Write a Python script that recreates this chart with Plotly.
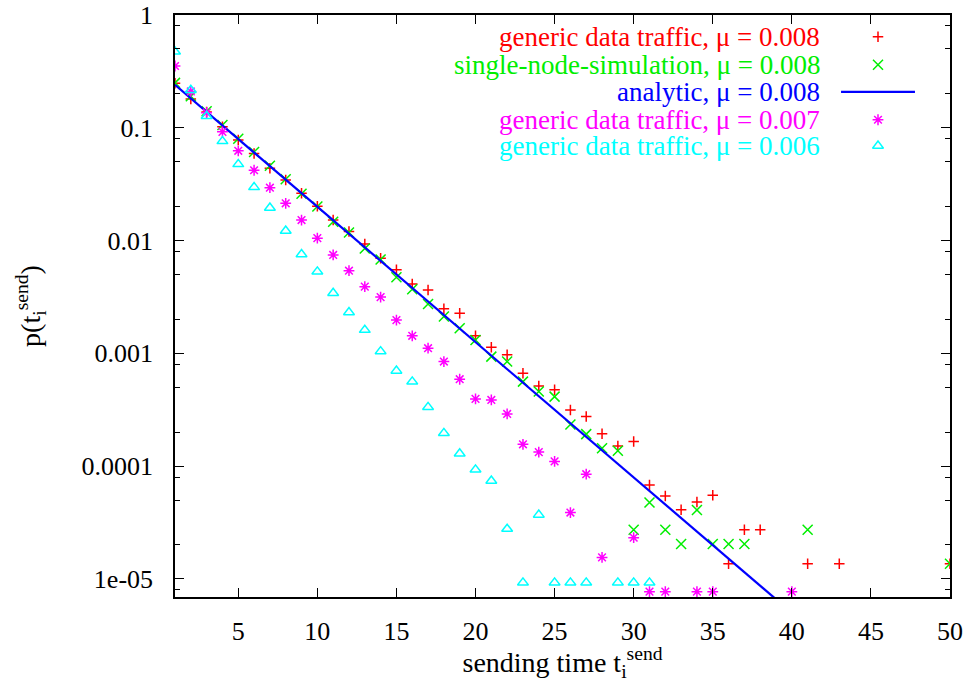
import plotly.graph_objects as go

# sending time t_i^send (1 ... 50)
t = list(range(1, 51))

# p(t_i^send), generic data traffic, mu = 0.008
p_generic_008 = [
    0.248, 0.18, 0.138, 0.102, 0.078, 0.059, 0.0437, 0.0345, 0.0262, 0.0201,
    0.0152, 0.012, 0.0093, 0.00697, 0.00552, 0.00411, 0.00365, 0.00248, 0.00227, 0.00143,
    0.00113, 0.00097, 0.000666, 0.000514, 0.000474, 0.000315, 0.000275, 0.000193, 0.000151, 0.000165,
    6.8e-5, 5.44e-5, 4.1e-5, 4.8e-5, 5.5e-5, 1.36e-5, 2.72e-5, 2.72e-5, None, None,
    1.36e-5, None, 1.36e-5, None, None, None, None, None, None, 1.36e-5,
]

# p(t_i^send), single-node-simulation, mu = 0.008
p_single_008 = [
    0.25, 0.19, 0.14, 0.106, 0.08, 0.061, 0.046, 0.035, 0.026, 0.020,
    0.0147, 0.0118, 0.0085, 0.0068, 0.00473, 0.0037, 0.00274, 0.00212, 0.00167, 0.00131,
    0.000935, 0.000845, 0.000561, 0.000458, 0.000413, 0.000234, 0.000192, 0.000144, 0.000137, 2.72e-5,
    4.75e-5, 2.72e-5, 2.04e-5, 4.08e-5, 2.04e-5, 2.04e-5, 2.04e-5, None, None, None,
    2.72e-5, None, None, None, None, None, None, None, None, 1.36e-5,
]

# analytic curve, mu = 0.008 (straight line on the log axis)
t_analytic = [1, 40]
p_analytic_008 = [0.24, 5.0e-6]

# p(t_i^send), generic data traffic, mu = 0.007
p_generic_007 = [
    0.353, 0.21, 0.136, 0.092, 0.0625, 0.042, 0.0294, 0.0214, 0.0152, 0.0105,
    0.00745, 0.0054, 0.0039, 0.00315, 0.00197, 0.00143, 0.00111, 0.000845, 0.000589, 0.000394,
    0.000386, 0.00029, 0.000156, 0.000133, 0.00011, 3.87e-5, 8.47e-5, 1.55e-5, None, 2.32e-5,
    7.7e-6, 7.7e-6, None, 7.7e-6, 7.7e-6, None, None, None, None, 7.7e-6,
    None, None, None, None, None, None, None, None, None, None,
]

# p(t_i^send), generic data traffic, mu = 0.006
p_generic_006 = [
    0.473, 0.216, 0.127, 0.076, 0.0475, 0.0297, 0.0195, 0.0122, 0.00755, 0.0053,
    0.00342, 0.00231, 0.00161, 0.00104, 0.0007, 0.000561, 0.000333, 0.000196, 0.000129, 9.3e-5,
    7.4e-5, 2.77e-5, 9.25e-6, 3.7e-5, 9.25e-6, 9.25e-6, 9.25e-6, None, 9.25e-6, 9.25e-6,
    9.25e-6, None, None, None, None, None, None, None, None, None,
    None, None, None, None, None, None, None, None, None, None,
]

x_ticks = [5, 10, 15, 20, 25, 30, 35, 40, 45, 50]
y_ticks = [1e-5, 1e-4, 1e-3, 1e-2, 1e-1, 1]
y_tick_text = ["1e-05", "0.0001", "0.001", "0.01", "0.1", "1"]
y_minor = [m * 10.0 ** e for e in range(-6, 0) for m in (2, 5, 8)]

legend_labels = [
    "generic data traffic, μ = 0.008",
    "single-node-simulation, μ = 0.008",
    "analytic, μ = 0.008",
    "generic data traffic, μ = 0.007",
    "generic data traffic, μ = 0.006",
]

RED, GREEN, BLUE, MAGENTA, CYAN = "#ff0000", "#00ee00", "#0000ff", "#ff00ff", "#00ffff"
FONT = "Liberation Serif, Times New Roman, serif"

styles = [
    dict(kind="marker", color=RED, symbol="cross-thin", size=7.5),
    dict(kind="marker", color=GREEN, symbol="x-thin", size=10),
    dict(kind="line", color=BLUE),
    dict(kind="marker", color=MAGENTA, symbol="asterisk", size=9),
    dict(kind="marker", color=CYAN, symbol="triangle-up-open", size=9.5),
]

fig = go.Figure()


def marker_trace(x, y, st, **kw):
    return go.Scatter(
        x=x, y=y, mode="markers", showlegend=False, hoverinfo="skip",
        marker=dict(symbol=st["symbol"], size=st["size"], color=st["color"],
                    line=dict(color=st["color"], width=1.5)),
        **kw,
    )


# data series, in drawing order
fig.add_trace(marker_trace(t, p_generic_008, styles[0]))
fig.add_trace(marker_trace(t, p_single_008, styles[1]))
fig.add_trace(go.Scatter(x=t_analytic, y=p_analytic_008, mode="lines", showlegend=False,
                         line=dict(color=BLUE, width=2.2), hoverinfo="skip"))
fig.add_trace(marker_trace(t, p_generic_007, styles[3]))
fig.add_trace(marker_trace(t, p_generic_006, styles[4]))

# key in the upper right: right-aligned text with the sample to its right
row_y = [0.9625, 0.9144, 0.868, 0.82, 0.7752]
text_x = 0.8348
sample_x = 0.9071
line_x = [0.8594, 0.9548]
for label, st, y in zip(legend_labels, styles, row_y):
    fig.add_annotation(xref="paper", yref="paper", x=text_x, y=y, text=label,
                       showarrow=False, xanchor="right", yanchor="middle",
                       font=dict(family=FONT, size=27, color=st["color"]))
    if st["kind"] == "line":
        fig.add_trace(go.Scatter(x=line_x, y=[y, y], mode="lines", xaxis="x2", yaxis="y2",
                                 showlegend=False, hoverinfo="skip",
                                 line=dict(color=st["color"], width=2.2)))
    else:
        fig.add_trace(marker_trace([sample_x], [y], st, xaxis="x2", yaxis="y2"))

axis_common = dict(
    showline=True, linecolor="black", linewidth=1.5, mirror="allticks",
    ticks="inside", ticklen=9, tickwidth=1.3, tickcolor="black",
    showgrid=False, zeroline=False, automargin=False,
    tickfont=dict(family=FONT, size=26, color="black"),
    title_font=dict(family=FONT, size=28, color="black"),
)

fig.update_layout(
    width=964, height=682,
    margin=dict(l=175, r=14, t=15, b=85, autoexpand=False),
    paper_bgcolor="white", plot_bgcolor="white",
    font=dict(family=FONT, color="black"),
    xaxis=dict(
        range=[1, 50], tickvals=x_ticks, ticklabelstandoff=10,
        title=dict(text="sending time t<sub>i</sub><sup>send</sup>", standoff=8),
        **axis_common,
    ),
    yaxis=dict(
        type="log", range=[-5.161, 0], tickvals=y_ticks, ticktext=y_tick_text,
        ticklabelstandoff=15,
        minor=dict(tickvals=y_minor, ticks="inside", ticklen=5, tickwidth=1.2, tickcolor="black"),
        title=dict(text="p(t<sub>i</sub><sup>send</sup>)", standoff=33),
        **axis_common,
    ),
    xaxis2=dict(overlaying="x", range=[0, 1], visible=False, anchor="y2"),
    yaxis2=dict(overlaying="y", range=[0, 1], visible=False, anchor="x2"),
)

fig.write_html("out.html")
